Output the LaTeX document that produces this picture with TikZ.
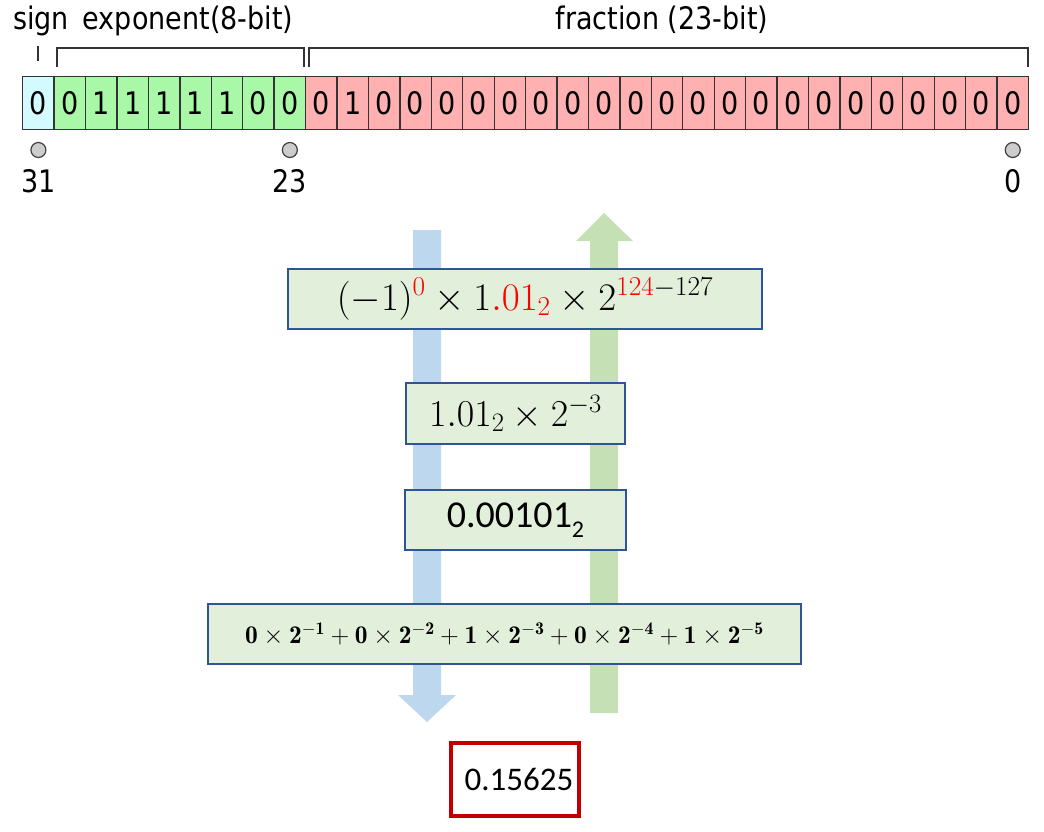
\RequirePackage{fix-cm}
\documentclass[tikz,border=0pt]{standalone}
\usepackage{fontspec}
\newfontfamily\dejavu{DejaVu Sans}
\newfontfamily\carlito{Carlito}
\definecolor{signc}{HTML}{D2FAFF}
\definecolor{expc}{HTML}{A8F8A8}
\definecolor{fracc}{HTML}{FFB0B0}
\definecolor{bluearr}{HTML}{BDD7EE}
\definecolor{greenarr}{HTML}{C5E0B4}
\definecolor{boxfill}{HTML}{E2EFDA}
\definecolor{boxline}{HTML}{2F5597}
\definecolor{redline}{HTML}{C00000}
\newcommand{\toptxt}[1]{\scalebox{1}[1.15]{\dejavu\fontsize{27}{30}\selectfont #1}}
\newcommand{\bb}[1]{\mathbf{#1}}
\newcommand{\sumexpr}{\fontsize{25.5}{30}\selectfont$\bb{0}\times\bb{2}^{-\bb{1}}+\bb{0}\times\bb{2}^{-\bb{2}}+\bb{1}\times\bb{2}^{-\bb{3}}+\bb{0}\times\bb{2}^{-\bb{4}}+\bb{1}\times\bb{2}^{-\bb{5}}$}
\begin{document}
\begin{tikzpicture}[x=1pt,y=-1pt,
  cellbox/.style={draw=black!80,line width=1.3pt,minimum width=31.43pt,minimum height=53pt,inner sep=0pt},
  pinmark/.style={circle,draw=black!75,fill=black!20,line width=1.2pt,minimum size=15pt,inner sep=0pt},
  toplabel/.style={inner sep=0pt,anchor=base},
  bracket/.style={draw=black!80,line width=1.3pt},
  mathbox/.style={draw=boxline,fill=boxfill,line width=1.5pt,inner sep=0pt},
  resbox/.style={draw=redline,line width=4pt,inner sep=0pt,minimum width=128pt,minimum height=73pt}
]
\useasboundingbox (0,0) rectangle (1044,832);

% bit cells
\foreach \b [count=\j from 0] in {0,0,1,1,1,1,1,0,0,0,1,0,0,0,0,0,0,0,0,0,0,0,0,0,0,0,0,0,0,0,0,0} {
  \pgfmathsetmacro\cx{22.7+31.43*(\j+0.5)}
  \def\cc{fracc}
  \ifnum\j<9 \def\cc{expc}\fi
  \ifnum\j=0 \def\cc{signc}\fi
  \node[cellbox,fill=\cc] (c\j) at (\cx,103) {\toptxt{\b}};
}

% pins and indices
\node[pinmark] (p31) at (c0 |- 0,150) {};
\node[pinmark] (p23) at (c8 |- 0,150) {};
\node[pinmark] (p0) at (c31 |- 0,150) {};
\node[toplabel] (l31) at (c0 |- 0,192) {\toptxt{31}};
\node[toplabel] (l23) at (c8 |- 0,192) {\toptxt{23}};
\node[toplabel] (l0) at (c31 |- 0,192) {\toptxt{0}};

% brackets
\draw[bracket] (38,46) -- (38,61);
\draw[bracket] (57,67) -- (57,48) -- (304,48) -- (304,67);
\draw[bracket] (309,67) -- (309,48) -- (1028,48) -- (1028,67);

% field labels
\node[toplabel] (lsign) at (41,30) {\toptxt{sign}};
\node[toplabel] (lexp) at (188,30) {\toptxt{exponent(8-bit)}};
\node[toplabel] (lfrac) at (662,30) {\toptxt{fraction (23-bit)}};

% big arrows
\fill[bluearr] (413,230) -- (441,230) -- (441,695) -- (456,695) -- (427,722) -- (398,695) -- (413,695) -- cycle;
\fill[greenarr] (590,713) -- (618,713) -- (618,241) -- (633,241) -- (604,213) -- (576,241) -- (590,241) -- cycle;

% formula boxes
\node[mathbox,minimum width=593pt,minimum height=60pt] (b4) at (504.5,634) {\sumexpr};
\node[mathbox,minimum width=474pt,minimum height=60pt] (b1) at (525,299)
  {\fontsize{39}{44}\selectfont $(-1)^{\color{red}0}\times 1{\color{red}.01_2}\times 2^{{\color{red}124}-127}$\hspace{10pt}};
\node[mathbox,minimum width=219pt,minimum height=61pt] (b2) at (515.5,413.5)
  {\fontsize{38}{43}\selectfont $1.01_2\times 2^{-3}$\hspace{6pt}};
\node[mathbox,minimum width=221pt,minimum height=60pt] (b3) at (515.5,520)
  {\carlito\fontsize{38}{42}\selectfont 0.00101\raisebox{-0.25em}{\fontsize{24}{26}\selectfont 2}};

% result
\node[resbox] (res) at (515,779.5) {\hspace{8pt}\carlito\fontsize{33}{36}\selectfont 0.15625};
\end{tikzpicture}
\end{document}
